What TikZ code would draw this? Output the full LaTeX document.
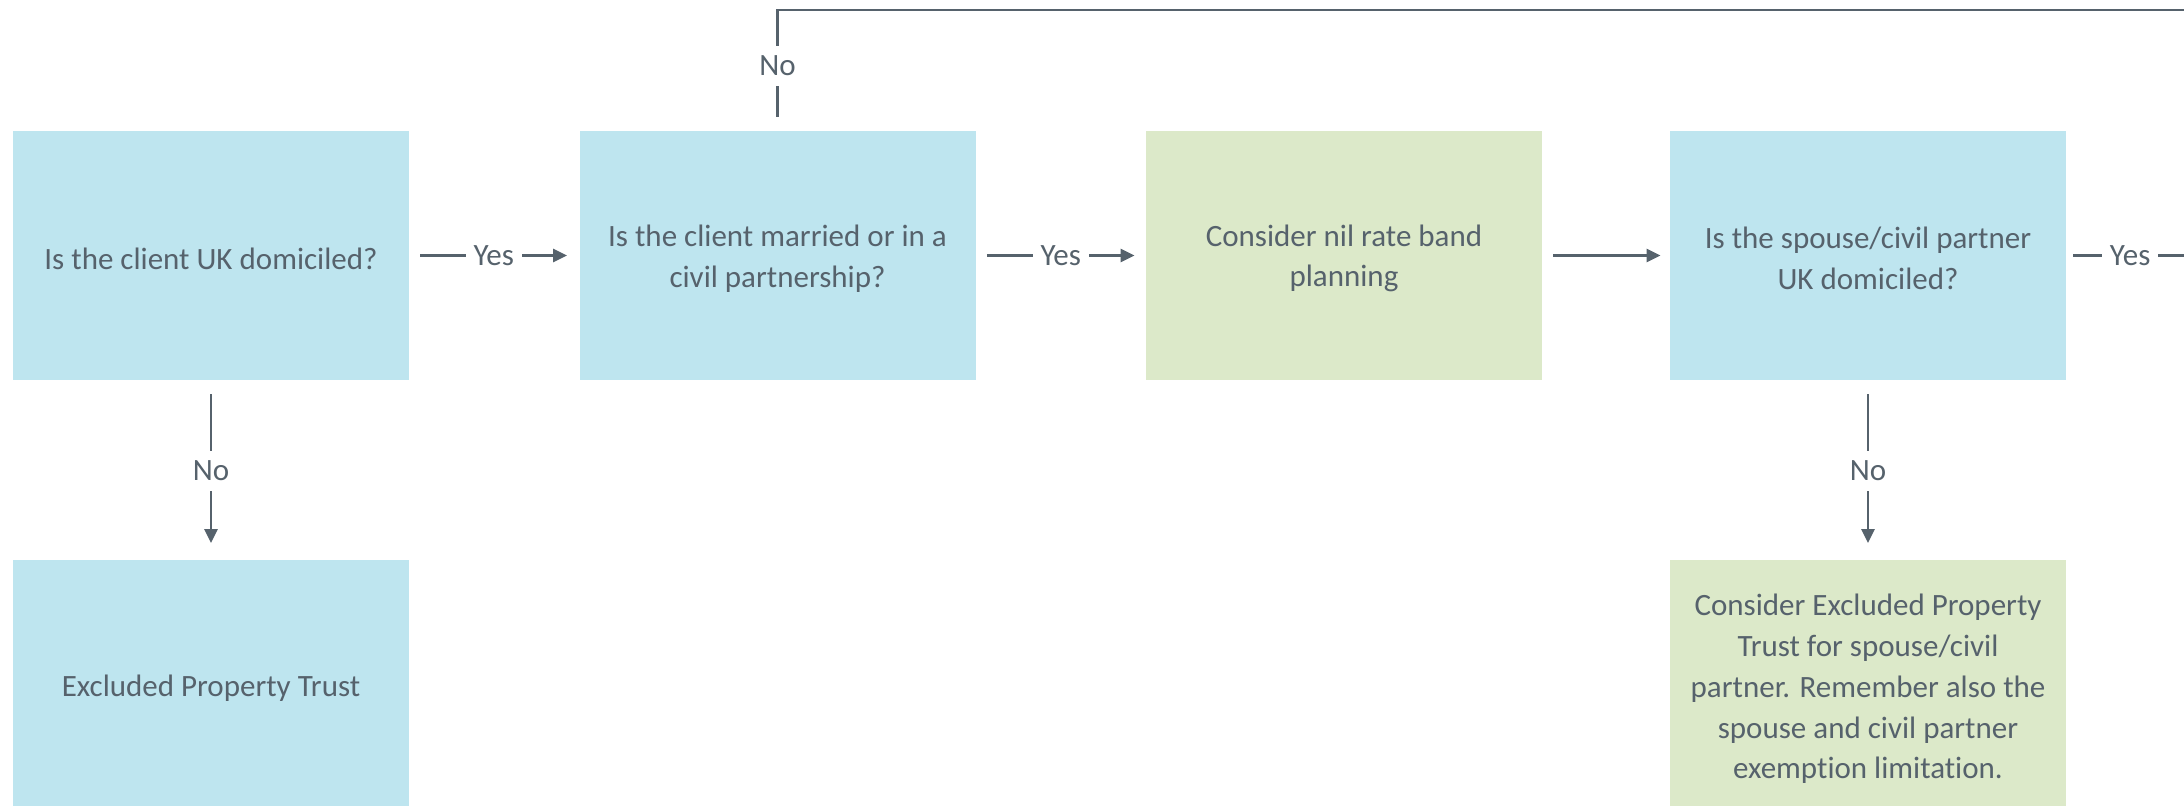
\documentclass[tikz,border=0pt]{standalone}
\usepackage{fontspec}
\setmainfont{Carlito}[Ligatures={NoCommon,NoDiscretionary,NoRare}]
\usetikzlibrary{arrows.meta}
\definecolor{qblue}{HTML}{BEE5EF}
\definecolor{agreen}{HTML}{DCE9C9}
\definecolor{ink}{HTML}{56626C}
\begin{document}
\begin{tikzpicture}[x=0.5pt,y=-0.5pt,
  box/.style={minimum width=198pt, minimum height=124.5pt, inner sep=0pt},
  qbox/.style={box, fill=qblue},
  abox/.style={box, fill=agreen},
  txt/.style={inner sep=0pt, align=center, text=ink, font=\fontsize{15.5}{20.4}\selectfont},
  conn/.style={draw=ink, line width=1.3pt},
  arr/.style={conn, -{Triangle[length=7pt,width=6.5pt]}},
  lbl/.style={fill=white, text=ink, inner xsep=4pt, inner ysep=5pt, font=\fontsize{15.5}{20}\selectfont},
  vlbl/.style={lbl, yshift=-1.2pt}]
\useasboundingbox (0,0) rectangle (2184,806);
\clip (0,0) rectangle (2184,806);
\node[qbox] (b1) at (211,255.5) {};
\node[qbox] (b2) at (777.5,255.5) {};
\node[abox] (b3) at (1344,255.5) {};
\node[qbox] (b4) at (1868,255.5) {};
\node[qbox] (b5) at (211,685) {};
\node[abox] (b6) at (1868,685) {};
\node[txt] (t1) at ([yshift=-1.5pt]b1.center) {Is the client UK domiciled?};
\node[txt] (t2) at ([yshift=-1.5pt]b2.center) {Is the client married or in a\\civil partnership?};
\node[txt] (t3) at ([yshift=-1.5pt]b3.center) {Consider nil rate band\\planning};
\node[txt] (t4) at ([yshift=-1.5pt]b4.center) {Is the spouse/civil partner\\UK domiciled?};
\node[txt] (t5) at ([yshift=-1.5pt]b5.center) {Excluded Property Trust};
\node[txt] (t6) at ([yshift=-2pt]b6.center) {Consider Excluded Property\\Trust for spouse/civil\\partner. Remember also the\\spouse and civil partner\\exemption limitation.};
\coordinate (offr) at (2195,255.5);
\coordinate (topr) at (2200,10);
\draw[arr] ([xshift=5.5pt]b1.east) -- node[lbl]{Yes} ([xshift=-6pt]b2.west);
\draw[arr] ([xshift=5.5pt]b2.east) -- node[lbl]{Yes} ([xshift=-5.5pt]b3.west);
\draw[arr] ([xshift=5.5pt]b3.east) -- ([xshift=-4.5pt]b4.west);
\draw[conn] ([xshift=3.5pt]b4.east) -- node[lbl,pos=0.467]{Yes} (offr);
\draw[arr] ([yshift=-7pt]b1.south) -- node[vlbl]{No} ([yshift=8.5pt]b5.north);
\draw[arr] ([yshift=-7pt]b4.south) -- node[vlbl]{No} ([yshift=8.5pt]b6.north);
\draw[conn] ([yshift=7pt]b2.north) |- node[vlbl,pos=0.25]{No} (topr);
\end{tikzpicture}
\end{document}
